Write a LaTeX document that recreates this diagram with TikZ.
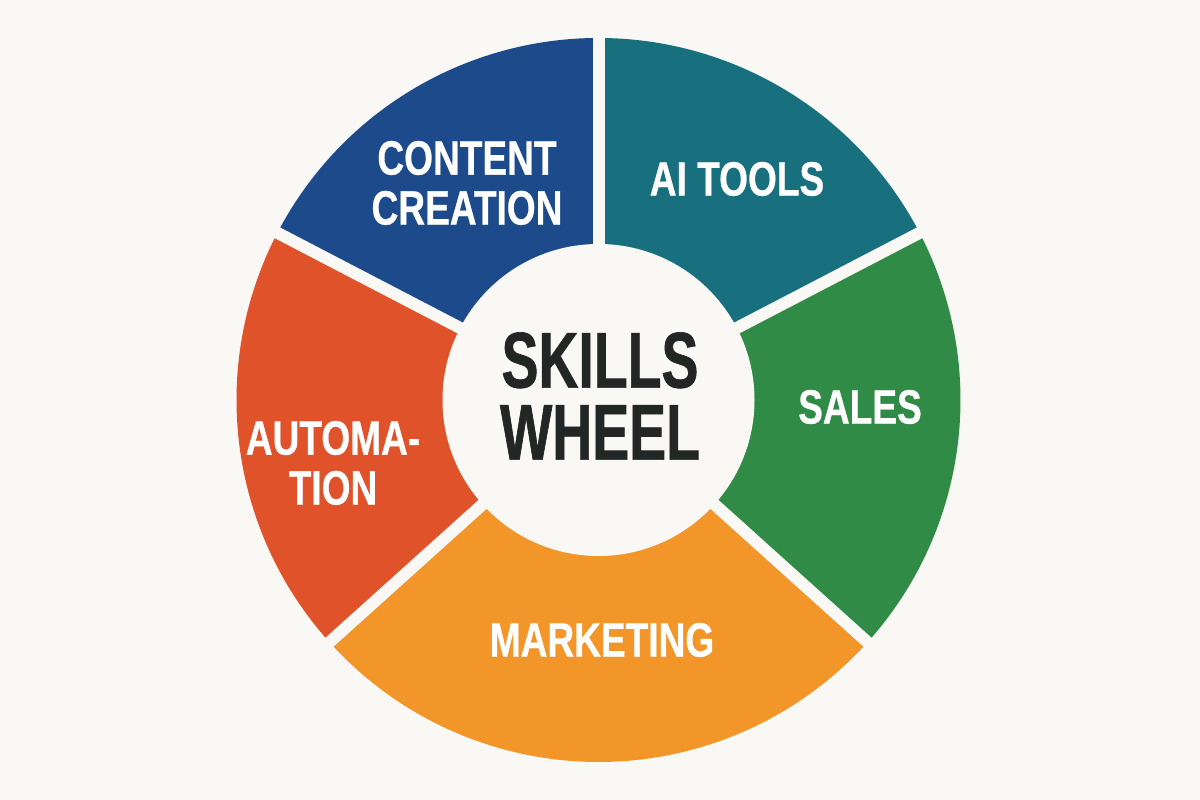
\documentclass[tikz,border=0pt]{standalone}
\usepackage{fontspec}
\newfontfamily\labelfont[FakeStretch=0.77,FakeBold=0.6]{Liberation Sans}
\newfontfamily\hubfont[FakeStretch=0.70,FakeBold=0.8]{Liberation Sans}
\usetikzlibrary{positioning}
\definecolor{paper}{HTML}{F9F8F5}
\definecolor{contentblue}{HTML}{1C4A8B}
\definecolor{aiteal}{HTML}{18707F}
\definecolor{salesgreen}{HTML}{308B47}
\definecolor{mktorange}{HTML}{F2962A}
\definecolor{autored}{HTML}{E0532A}
\definecolor{hubtext}{HTML}{222624}
\tikzset{
  gapline/.style={line width=0.12cm, paper},
  seglabel/.style={text=white, align=center, inner sep=0pt,
    font=\labelfont\bfseries\fontsize{13.7}{14.2}\selectfont},
  hublabel/.style={text=hubtext, align=center, inner sep=0pt,
    font=\hubfont\bfseries\fontsize{22.5}{20.5}\selectfont}
}

\begin{document}
\begin{tikzpicture}
  \fill[paper] (0,0) rectangle (12,8);
  \useasboundingbox (0,0) rectangle (12,8);
  \coordinate (hub) at (5.985,4.00);
  % sectors
  \foreach \a/\b/\c in {27.5/90/aiteal, 90/152.5/contentblue, 152.5/222/autored,
                        222/318/mktorange, -42/27.5/salesgreen}
    \fill[\c] (hub) -- ++(\a:3.62) arc[start angle=\a, end angle=\b, radius=3.62] -- cycle;
  % gaps between sectors
  \foreach \a in {90,27.5,-42,222,152.5}
    \draw[gapline] (hub) -- ++(\a:3.8);
  \fill[paper] (hub) circle (1.56);
  % labels
  \node[hublabel] (title) at (6.00,4.04) {SKILLS\\WHEEL};
  \node[seglabel] (content) at (4.67,6.17) {CONTENT\\CREATION};
  \node[seglabel] (ai) at (7.37,6.21) {AI TOOLS};
  \node[seglabel] (sales) at (8.60,3.93) {SALES};
  \node[seglabel] (auto) at (3.33,3.37) {AUTOMA-\\TION};
  \node[seglabel] (mkt) at (6.02,1.60) {MARKETING};
\end{tikzpicture}
\end{document}
